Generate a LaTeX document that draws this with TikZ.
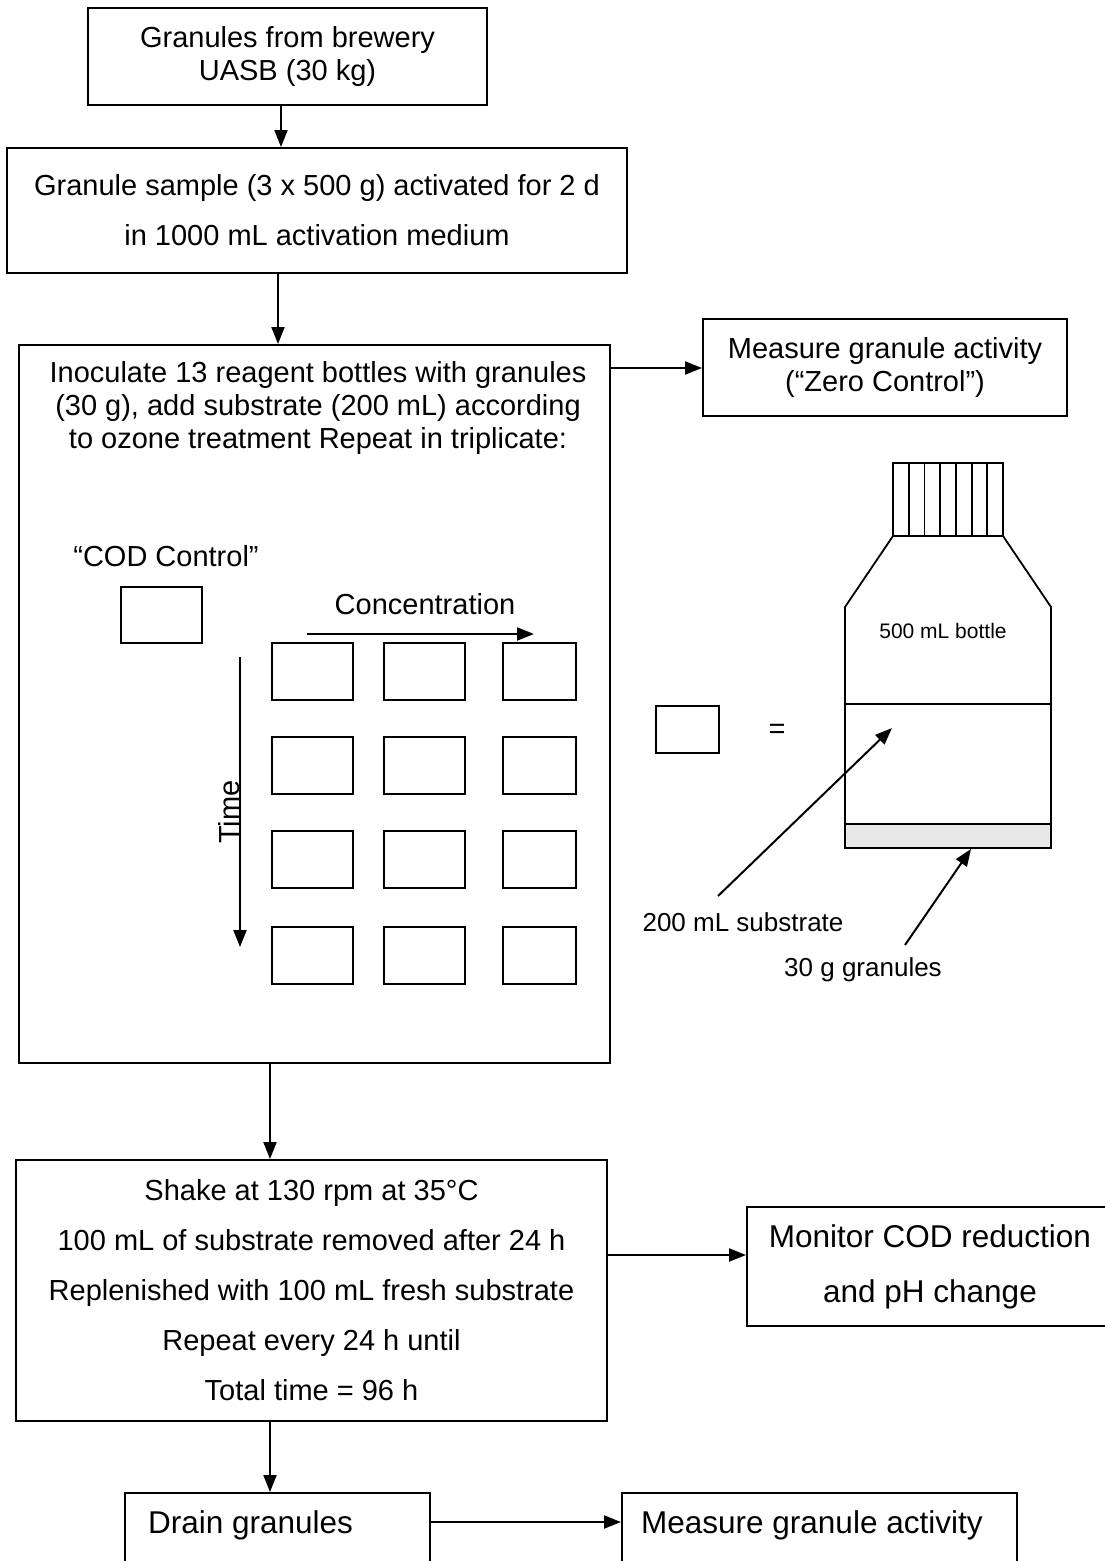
\documentclass[tikz,border=0pt]{standalone}
\usepackage{fontspec}
\setmainfont{Liberation Sans}
\usetikzlibrary{arrows.meta}
\begin{document}
\begin{tikzpicture}[x=1pt,y=-1pt,
  box/.style={draw,line width=2pt,rectangle,inner sep=0pt,align=center},
  cell/.style={draw,line width=1.6pt,rectangle,inner sep=0pt,minimum height=57pt},
  txt/.style={inner sep=0pt,align=center,font=\fontsize{29}{33}\selectfont},
  wide/.style={inner sep=0pt,align=center,font=\fontsize{29}{50}\selectfont},
  arr/.style={line width=2pt,-{Triangle[length=17pt,width=13pt]}},
  thin/.style={line width=1.8pt}]
\useasboundingbox (0,0) rectangle (1105,1561);
\clip (0,0) rectangle (1105,1561);

% main flow boxes
\node[box,minimum width=399pt,minimum height=97pt,txt] (src) at (287.5,56.5)
  {Granules from brewery\\UASB (30 kg)};
\node[box,minimum width=620pt,minimum height=125pt,wide] (act) at (317,210.5)
  {Granule sample (3 x 500 g) activated for 2 d\\in 1000 mL activation medium};
\node[box,minimum width=591pt,minimum height=718pt] (inoc) at (314.5,704) {};
\node[txt] (inoctext) at (318,408)
  {Inoculate 13 reagent bottles with granules\\(30 g), add substrate (200 mL) according\\to ozone treatment Repeat in triplicate:};
\node[box,minimum width=364pt,minimum height=97pt,txt] (zero) at (885,367.5)
  {Measure granule activity\\(“Zero Control”)};
\node[box,minimum width=591pt,minimum height=261pt,wide] (shake) at (311.5,1290.5)
  {Shake at 130 rpm at 35°C\\100 mL of substrate removed after 24 h\\Replenished with 100 mL fresh substrate\\Repeat every 24 h until\\Total time = 96 h};
\node[box,minimum width=366pt,minimum height=119pt,align=center,
  font=\fontsize{31.5}{55}\selectfont] (monitor) at (930,1266.5)
  {Monitor COD reduction\\and pH change};
\node[box,minimum width=305pt,minimum height=140pt] (drain) at (277.5,1563) {};
\node[anchor=west,inner sep=0pt,font=\fontsize{31.5}{36}\selectfont] (draintext) at (148,1525) {Drain granules};
\node[box,minimum width=395pt,minimum height=140pt] (final) at (819.5,1563) {};
\node[anchor=west,inner sep=0pt,font=\fontsize{31.5}{36}\selectfont] (finaltext) at (641,1525) {Measure granule activity};

% connectors
\draw[arr] ([xshift=-6.5pt]src.south) -- ([xshift=-6.5pt]src.south |- act.north);
\draw[arr] ([xshift=-39pt]act.south) -- ([xshift=-39pt]act.south |- inoc.north);
\draw[arr] ([yshift=-24pt]inoc.north east) -- ([yshift=-24pt]inoc.north east -| zero.west);
\draw[arr] ([xshift=-44.5pt]inoc.south) -- ([xshift=-44.5pt]inoc.south |- shake.north);
\draw[arr] ([yshift=35.5pt]shake.east) -- ([yshift=35.5pt]shake.east -| monitor.west);
\draw[arr] ([xshift=-41.5pt]shake.south) -- ([xshift=-41.5pt]shake.south |- drain.north);
\draw[arr] ([yshift=-30pt]drain.north east) -- ([yshift=-30pt]drain.north east -| final.west);

% bottle layout inside the inoculation box
\node[txt] (codlabel) at (166,556) {“COD Control”};
\node[cell,minimum width=81pt,minimum height=56pt] (cod) at (161.5,615) {};
\node[txt] (conclabel) at (425,604) {Concentration};
\coordinate (concA) at (307,634);
\coordinate (concB) at (534,634);
\draw[arr] (concA) -- (concB);
\coordinate (timeA) at (240,657);
\coordinate (timeB) at (240,947);
\draw[arr] (timeA) -- (timeB);
\node[txt,rotate=90] (timelabel) at (229,812) {Time};
\foreach \r/\y in {1/671.5,2/765.5,3/859.5,4/955.5}{
  \node[cell,minimum width=81pt] (c\r1) at (312.5,\y) {};
  \node[cell,minimum width=81pt] (c\r2) at (424.5,\y) {};
  \node[cell,minimum width=73pt] (c\r3) at (539.5,\y) {};
}

% legend: one cell equals one bottle
\node[cell,minimum width=63pt,minimum height=47pt] (key) at (687.5,729.5) {};
\node[txt] (eq) at (777,731) {=};

% 500 mL bottle
\fill[gray!18] (845,824) rectangle (1051,848);
\draw[thin,line join=miter] (845,848) -- (845,607) -- (893,536) -- (1003,536)
  -- (1051,607) -- (1051,848) -- cycle;
\draw[thin] (893,463) rectangle (1003,536);
\foreach \x in {908.7,924.4,940.1,955.9,971.6,987.3}
  \draw[thin] (\x,463) -- (\x,536);
\draw[thin] (845,704) -- (1051,704);
\draw[thin] (845,824) -- (1051,824);
\node[inner sep=0pt,font=\fontsize{21}{24}\selectfont] (bottlelabel) at (943,631) {500 mL bottle};

\node[txt,font=\fontsize{26}{30}\selectfont] (sublabel) at (743,922) {200 mL substrate};
\node[txt,font=\fontsize{26}{30}\selectfont] (granlabel) at (863,970) {30 g granules};
\coordinate (subtail) at (718,896);
\coordinate (subhead) at (892,728);
\coordinate (grantail) at (905,945);
\coordinate (granhead) at (971,849);
\draw[arr] (subtail) -- (subhead);
\draw[arr] (grantail) -- (granhead);
\end{tikzpicture}
\end{document}
